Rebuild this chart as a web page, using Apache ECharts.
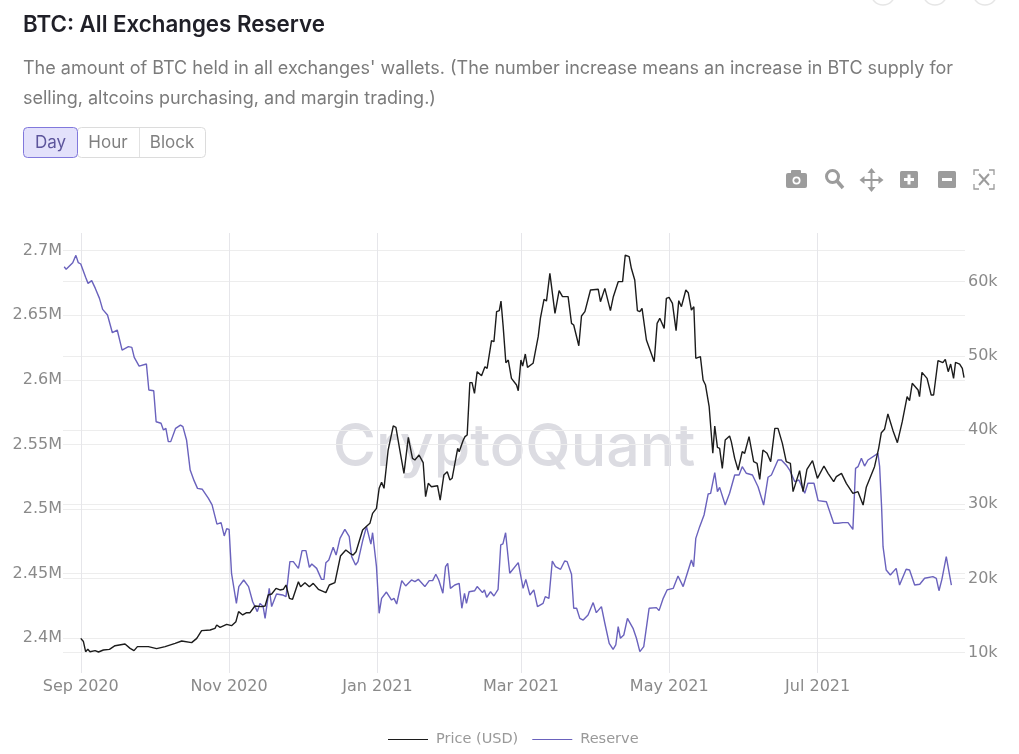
<!DOCTYPE html>
<html>
<head>
<meta charset="utf-8">
<style>
  html, body { margin: 0; padding: 0; background: #fff; }
  #ec { width: 1019px; height: 754px; }
</style>
<script src="https://cdn.jsdelivr.net/npm/echarts@6/dist/echarts.min.js"></script>
</head>
<body>
<div id="ec"></div>
<script>
// days counted from 2020-09-01
var reserveDays = [-6.8,-6,-3.3,-2,-1,0,2,3,4.5,6,7.7,9,11,13,15,17,19.6,21,22,24,27,28,30,31,33,34,35,36,37,39,41,42,43.5,45,46.6,48,50,52.5,54,56,57.7,59,60,61,62,64,65,67,69,70.7,72.6,73.7,75,75.8,77.5,78.5,80.5,83,84.4,86,87.4,89.5,91,92.6,94,95,97,99,100,100.8,102,103.8,105,106.6,108.6,110.4,111.4,113,114,116,117.5,119.3,120,121.6,122.7,123.7,125.7,127.8,128.8,129.9,132,133.6,136,137.4,138.8,141.5,143.3,144.7,146,147.2,148.9,150,150.9,152,153.8,155.6,156.7,157.8,158.6,159.7,162,163,165.2,166,166.9,168.5,169.9,171.6,172.7,173.6,174.7,176.4,179.9,181.9,183,184.7,186.3,187.8,190.1,191,192.5,193.9,195.2,197.3,199,200,201.8,202.7,203.9,205.2,206.6,208.6,210.7,212,214.1,215.5,217.3,218.9,220,221,221.9,223.3,224.8,227.1,228.5,229.9,231.5,233.7,236.7,237.8,239.5,241.1,243.6,245.6,247.7,251.1,252,252.9,254.5,256.3,258,259,260.7,261.8,262.7,265,266.8,268.9,270.7,272,273.7,276.2,278.5,280.8,282.6,284,286.7,288.1,290.4,291.5,293.6,295.3,297.7,299,301.5,303.2,306.6,309.6,311.4,313.4,315.5,317.5,318.6,319.6,321,322.3,323.7,327.8,328.5,329.3,329.9,331.2,332.9,335.3,336.7,339.4,340.8,342.9,345,347,350.4,351.8,352.9,354.1,354.9,355.9,356.6,358];
// reserve in thousand BTC
var reserveValues = [2687.6,2685.6,2690.7,2696.4,2690.7,2689.7,2679.4,2674.7,2676.8,2670.8,2663.1,2654.6,2650.2,2636.5,2638.6,2623.1,2625.7,2625.2,2617.4,2610.7,2612.3,2592.2,2591.6,2567.6,2566.4,2561.2,2562.5,2552.2,2552.2,2562.5,2565,2563.8,2553.5,2530.2,2522,2516,2515.3,2508.3,2503.2,2488.4,2489.5,2479.2,2484.8,2484.3,2450.3,2427,2440,2445.1,2440,2428.3,2420.6,2427,2424.5,2415.4,2438.6,2424.5,2434.3,2433.5,2432.2,2459.3,2459.3,2454.1,2467.8,2467.8,2454.9,2457.5,2454.1,2445.6,2445.6,2458.5,2460.6,2470.4,2464.4,2477.3,2484.3,2478.6,2463.2,2456.7,2459.3,2476.1,2486.4,2472.9,2481.7,2455.4,2419.3,2430.9,2435.8,2429.6,2430.9,2426.5,2444.6,2440.5,2445.1,2443.8,2445.6,2440,2444.6,2444.6,2449.5,2445.1,2434.8,2455.4,2458,2438.6,2441.2,2442.5,2423.2,2434.8,2427,2436,2436.8,2440,2435.3,2437.4,2431.7,2436,2432.7,2437.9,2472.2,2473,2481.7,2450.3,2458.5,2438.6,2445.6,2433.5,2437.4,2424.5,2427,2432.2,2430.9,2459.8,2455.4,2453.4,2459.8,2459.3,2449.5,2423.2,2423.2,2415.4,2414.1,2418,2427.6,2419.8,2424.5,2411.6,2396.1,2391.4,2394.8,2409,2400,2402.5,2415.4,2407.7,2400,2389.6,2393.5,2423.2,2423.7,2421.4,2430.9,2437.4,2438.6,2448.2,2440,2460.6,2455.4,2477.3,2486.4,2495.4,2511.7,2512.2,2528.2,2513.5,2516.8,2503.1,2512.2,2526.4,2526.4,2532.8,2527.7,2526.4,2517.3,2503.1,2524.6,2526.4,2538,2538,2533.3,2530.2,2521.2,2522.5,2512.2,2520,2520,2506.5,2505.7,2489,2489,2489.5,2489.5,2484.3,2531.5,2532.8,2539.3,2533.3,2538,2543.1,2532.8,2501.9,2470.9,2452.8,2449,2454.1,2441.2,2453.4,2452.8,2441.2,2441.8,2446.4,2447.7,2446.4,2436.8,2445.6,2446.4,2463.2,2462.6,2441.2];

var priceDays = [0,1.1,2,2.9,3.8,5.9,7.3,9.3,11.8,14.1,18.2,20.3,21.9,23.3,27.8,31.2,34.7,38.8,41.5,45.6,47.7,49.7,53.2,55.2,55.9,57.3,60,62,63.8,64.9,66.6,68.2,69.6,71.6,74.4,75.8,77.1,78.5,80.3,81.9,83.3,84.4,85.8,87.1,89.5,90.4,92.2,94,95.6,97.7,100.8,102.2,104.5,106.8,109,110.7,112,113.2,115.9,117.3,118.9,120,121.6,122.7,123.7,124.7,126.4,128.5,129.6,131.2,132.9,134.7,136.4,137.4,139.1,140.8,141.8,142.9,144.2,146.7,147.8,149.3,150.7,151.8,152.7,155,155.6,157.3,158,158.9,160,160.9,161.9,163,164.8,166.2,167.1,168.9,169.9,171,172.1,172.8,173.7,174.8,175.8,177.1,179.2,179.9,181,181.7,182.8,183.7,186,188.1,189,190.5,191.5,192.9,195,196.7,198.1,200.4,201.8,202.7,204.8,205.9,207.3,208,209.6,212.8,213.7,215.5,217.8,219,221,222.8,223.9,225.5,226.4,227.8,228.9,229.9,230.8,232.6,235.8,237,238.1,239.9,240.8,241.9,243.3,244.8,245.9,247,248.8,249.8,251.1,252.1,252.9,254.8,255.9,256.9,258.4,259,259.9,260.7,261.8,262.7,263.8,265,266.8,267.5,268.9,270.3,272,273,274.8,276.7,278.1,279.2,280.5,282.2,283.7,285.4,286.7,288.5,290.1,291.8,292.9,295.6,297,298.6,300.9,302.9,305.6,307.3,309.6,310.7,312.8,314.8,317.5,319.6,321.7,323,326.4,328.1,329.2,330.5,331.9,334,335.8,337.8,339.8,340.8,341.9,344.3,344.9,345.9,348,349.7,350.7,352.5,354.5,355.5,356.7,357.7,358.9,359.7,361.4,362.5,363.2];
// price in thousand USD
var priceValues = [11.93,11.5,10.13,10.45,10.13,10.27,10.09,10.36,10.45,10.94,11.17,10.58,10.27,10.81,10.81,10.54,10.81,11.26,11.57,11.35,11.93,12.97,13.06,13.28,13.73,13.41,13.82,13.64,14.18,15.53,15.08,15.39,15.39,16.29,16.2,16.29,17.77,17.91,18.67,18.45,18.54,19.12,17.32,17.19,19.57,18.89,19.43,18.89,19.34,18.54,18.09,19.12,19.43,23.03,23.84,23.39,23.16,23.61,26.53,26.98,27.43,28.78,29.45,32.15,32.96,32.15,37.31,40.55,40.37,37.31,34.17,39.02,36.19,35.97,36.64,35.61,31.02,32.82,32.37,32.5,30.57,33.94,34.39,33.27,33.5,37.54,37.09,38.66,39.11,39.34,46.39,46.39,44.95,47.87,47.33,48.54,48.32,52.05,51.91,55.96,56.09,57.39,53.94,49.08,49.44,46.97,46.07,45.31,49.44,48.63,50.25,48.45,49,52.59,55.06,57.62,57.39,61.12,55.73,58.79,57.98,57.98,54.38,54.16,51.37,55.37,55.96,56.05,58.88,58.97,57.3,59.1,56.09,57.98,60,60,63.59,63.37,61.8,60.22,56.09,55.96,56.41,52.14,49.22,54.38,55.06,53.71,57.75,57.89,57.08,53.4,57.44,56.63,58.88,58.52,56.18,56.63,49.67,49.89,46.75,46.07,43.15,42.93,36.87,40.55,37.67,37.54,34.84,38.66,39.2,38.44,36.19,34.62,37.09,36.87,39.11,35.74,35.52,33.36,37.31,36.87,35.74,40.23,40.23,38.21,35.74,35.52,31.7,34.53,31.7,34.71,35.88,33.5,35.16,34.17,33.05,33.72,34.17,32.82,31.47,31.7,29.9,32.28,35.07,37.54,39.65,40.1,42.17,39.92,38.3,41.13,44.5,43.96,46.3,45.4,44.5,47.78,46.97,44.73,44.73,49.35,49.08,49.53,47.87,48.9,46.97,49.13,48.9,48.32,47.06];

var xTickDates = ['2020-09-01', '2020-11-01', '2021-01-01', '2021-03-01', '2021-05-01', '2021-07-01'];
var reserveTicks = [2400, 2450, 2500, 2550, 2600, 2650, 2700];
var priceTicks = [10, 20, 30, 40, 50, 60];
var monthNames = ['Jan', 'Feb', 'Mar', 'Apr', 'May', 'Jun', 'Jul', 'Aug', 'Sep', 'Oct', 'Nov', 'Dec'];

var DAY = 864e5;
var BASE = Date.UTC(2020, 8, 1);
var xTickDays = xTickDates.map(function(d) {
  return (Date.parse(d) - BASE) / DAY;
});

function zip(days, vals) {
  return days.map(function(d, i) {
    return [d, vals[i]];
  });
}

var ICON = '#9c9c9c';
var TITLE_FONT = 'Inter, "Noto Sans", sans-serif';

var buttons = [
  { type: 'rect', shape: { x: 77.5, y: 127.5, width: 128, height: 30, r: 4 }, style: { fill: '#fff', stroke: '#dcdcdc' } },
  { type: 'rect', shape: { x: 23.5, y: 127.5, width: 54, height: 30, r: 4 }, style: { fill: '#e3e1fb', stroke: '#8178dc' } },
  { type: 'line', shape: { x1: 139.5, y1: 128, x2: 139.5, y2: 157 }, style: { stroke: '#e2e2e2' } },
  { type: 'text', x: 50.5, y: 142.5, style: { text: 'Day', fill: '#5d559c', font: '17px ' + TITLE_FONT, align: 'center', verticalAlign: 'middle' } },
  { type: 'text', x: 108, y: 142.5, style: { text: 'Hour', fill: '#808080', font: '17px ' + TITLE_FONT, align: 'center', verticalAlign: 'middle' } },
  { type: 'text', x: 172, y: 142.5, style: { text: 'Block', fill: '#808080', font: '17px ' + TITLE_FONT, align: 'center', verticalAlign: 'middle' } }
];

var icons = [
  // camera
  { type: 'rect', shape: { x: 786, y: 173, width: 21, height: 15, r: 2 }, style: { fill: ICON } },
  { type: 'rect', shape: { x: 791, y: 170, width: 10, height: 4, r: 1 }, style: { fill: ICON } },
  { type: 'circle', shape: { cx: 796.5, cy: 180.5, r: 4 }, style: { fill: '#fff' } },
  { type: 'circle', shape: { cx: 796.5, cy: 180.5, r: 2.3 }, style: { fill: ICON } },
  // zoom
  { type: 'circle', shape: { cx: 832.5, cy: 176.5, r: 6 }, style: { fill: '#fff', stroke: ICON, lineWidth: 3 } },
  { type: 'line', shape: { x1: 837, y1: 181, x2: 843, y2: 188 }, style: { stroke: ICON, lineWidth: 3.5 } },
  // pan
  { type: 'line', shape: { x1: 871.5, y1: 170, x2: 871.5, y2: 190 }, style: { stroke: ICON, lineWidth: 2 } },
  { type: 'line', shape: { x1: 861.5, y1: 180, x2: 881.5, y2: 180 }, style: { stroke: ICON, lineWidth: 2 } },
  { type: 'polygon', shape: { points: [[871.5, 168], [867.5, 173], [875.5, 173]] }, style: { fill: ICON } },
  { type: 'polygon', shape: { points: [[871.5, 192], [867.5, 187], [875.5, 187]] }, style: { fill: ICON } },
  { type: 'polygon', shape: { points: [[859.5, 180], [864.5, 176], [864.5, 184]] }, style: { fill: ICON } },
  { type: 'polygon', shape: { points: [[883.5, 180], [878.5, 176], [878.5, 184]] }, style: { fill: ICON } },
  // plus
  { type: 'rect', shape: { x: 900, y: 171, width: 18, height: 17, r: 1.5 }, style: { fill: ICON } },
  { type: 'rect', shape: { x: 904, y: 178, width: 10, height: 3 }, style: { fill: '#fff' } },
  { type: 'rect', shape: { x: 907.5, y: 174.5, width: 3, height: 10 }, style: { fill: '#fff' } },
  // minus
  { type: 'rect', shape: { x: 938, y: 171, width: 18, height: 17, r: 1.5 }, style: { fill: ICON } },
  { type: 'rect', shape: { x: 942, y: 178, width: 10, height: 3 }, style: { fill: '#fff' } },
  // autoscale
  { type: 'polyline', shape: { points: [[974, 175], [974, 170], [979, 170]] }, style: { stroke: ICON, fill: null, lineWidth: 1.3 } },
  { type: 'polyline', shape: { points: [[989, 170], [994, 170], [994, 175]] }, style: { stroke: ICON, fill: null, lineWidth: 1.3 } },
  { type: 'polyline', shape: { points: [[974, 184], [974, 189], [979, 189]] }, style: { stroke: ICON, fill: null, lineWidth: 1.3 } },
  { type: 'polyline', shape: { points: [[989, 189], [994, 189], [994, 184]] }, style: { stroke: ICON, fill: null, lineWidth: 1.3 } },
  { type: 'line', shape: { x1: 979, y1: 174, x2: 989, y2: 185 }, style: { stroke: ICON, lineWidth: 2 } },
  { type: 'line', shape: { x1: 989, y1: 174, x2: 979, y2: 185 }, style: { stroke: ICON, lineWidth: 2 } },
  // faint circles cut by the top edge
  { type: 'circle', shape: { cx: 883, cy: -7, r: 12 }, style: { fill: null, stroke: '#e6e6e6', lineWidth: 1.5 } },
  { type: 'circle', shape: { cx: 935, cy: -7, r: 12 }, style: { fill: null, stroke: '#e6e6e6', lineWidth: 1.5 } },
  { type: 'circle', shape: { cx: 985, cy: -7, r: 12 }, style: { fill: null, stroke: '#e6e6e6', lineWidth: 1.5 } }
];

var texts = [
  { type: 'text', x: 23, y: 25, style: { text: 'BTC: All Exchanges Reserve', fill: '#202028', font: '600 22.3px ' + TITLE_FONT, verticalAlign: 'middle' } },
  { type: 'text', x: 23, y: 69, style: { text: "The amount of BTC held in all exchanges' wallets. (The number increase means an increase in BTC supply for", fill: '#7b7b7b', font: '18px ' + TITLE_FONT, verticalAlign: 'middle' } },
  { type: 'text', x: 23, y: 99, style: { text: 'selling, altcoins purchasing, and margin trading.)', fill: '#7b7b7b', font: '18px ' + TITLE_FONT, verticalAlign: 'middle' } },
  // watermark
  { type: 'text', x: 514, y: 448, style: { text: 'CryptoQuant', fill: '#dcdce2', font: '500 59px ' + TITLE_FONT, align: 'center', verticalAlign: 'middle' } }
];

var axisText = { color: '#8a8a8a', fontFamily: '"DejaVu Sans", Verdana, sans-serif', fontSize: 16 };

var option = {
  animation: false,
  backgroundColor: '#fff',
  graphic: { elements: texts.concat(buttons, icons) },
  legend: {
    left: 388,
    top: 732,
    padding: 0,
    itemWidth: 40,
    itemGap: 14,
    icon: 'path://M0,0H40V1H0Z',
    itemHeight: 2,
    textStyle: { color: '#999', fontSize: 14.5, padding: [0, 0, 0, 3], fontFamily: '"DejaVu Sans", sans-serif' },
    data: ['Price (USD)', 'Reserve']
  },
  grid: { left: 63, right: 54, top: 233, bottom: 81 },
  xAxis: {
    type: 'value',
    min: -7.3,
    max: 363.6,
    axisLine: { show: false },
    axisTick: { show: false, customValues: xTickDays },
    axisLabel: Object.assign({}, axisText, {
      margin: 6,
      customValues: xTickDays,
      formatter: function(v) {
        var d = new Date(BASE + v * DAY);
        return monthNames[d.getUTCMonth()] + ' ' + d.getUTCFullYear();
      }
    }),
    splitLine: { show: true, lineStyle: { color: '#e6e6ea', width: 1 } }
  },
  yAxis: [{
    type: 'value',
    position: 'left',
    min: 2373.1,
    max: 2713.7,
    axisLine: { show: false },
    axisTick: { show: false, customValues: reserveTicks },
    axisLabel: Object.assign({}, axisText, {
      margin: 1,
      customValues: reserveTicks,
      formatter: function(v) { return v / 1000 + 'M'; }
    }),
    splitLine: { show: true, lineStyle: { color: '#ededed', width: 1 } }
  }, {
    type: 'value',
    position: 'right',
    min: 7.26,
    max: 66.56,
    axisLine: { show: false },
    axisTick: { show: false, customValues: priceTicks },
    axisLabel: Object.assign({}, axisText, {
      margin: 3,
      customValues: priceTicks,
      formatter: function(v) { return v + 'k'; }
    }),
    splitLine: { show: true, lineStyle: { color: '#ededed', width: 1 } }
  }],
  series: [{
    name: 'Reserve',
    type: 'line',
    yAxisIndex: 0,
    z: 3,
    showSymbol: false,
    color: '#6a62bd',
    lineStyle: { width: 1.4 },
    data: zip(reserveDays, reserveValues)
  }, {
    name: 'Price (USD)',
    type: 'line',
    yAxisIndex: 1,
    z: 4,
    showSymbol: false,
    color: '#1c1c1c',
    lineStyle: { width: 1.4 },
    data: zip(priceDays, priceValues)
  }]
};

var ec = echarts.init(document.getElementById('ec'));
ec.setOption(option);
</script>
</body>
</html>
